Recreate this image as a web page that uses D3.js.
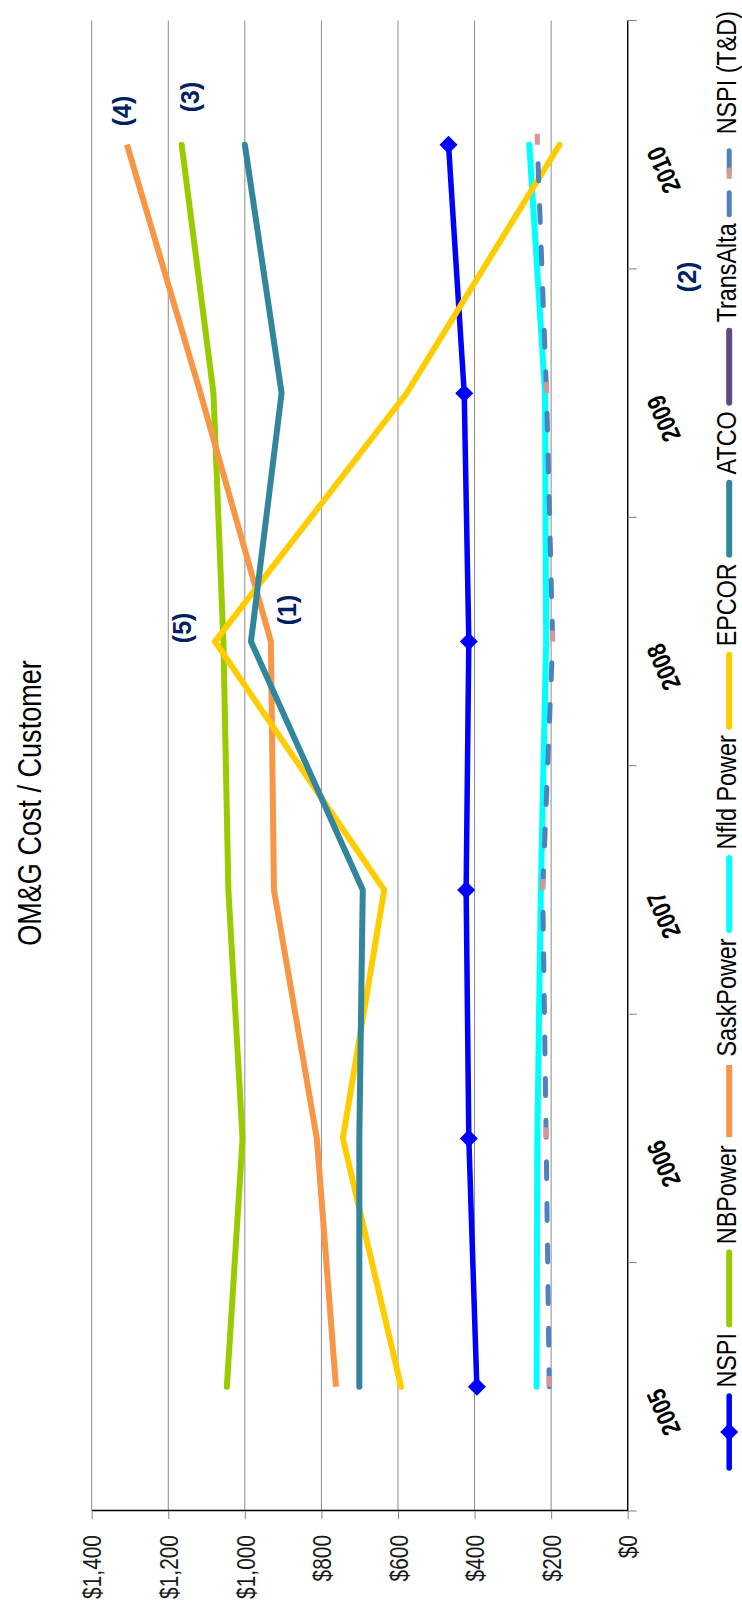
<!DOCTYPE html>
<html>
<head>
<meta charset="utf-8">
<script src="https://cdn.jsdelivr.net/npm/d3@7"></script>
<style>
  html, body { margin: 0; padding: 0; background: #ffffff; }
  svg { display: block; }
</style>
</head>
<body>
<svg id="chart" width="742" height="1610"></svg>
<script>
// ---- data ----
const years = ["2005", "2006", "2007", "2008", "2009", "2010"];
const valueTicks = [0, 200, 400, 600, 800, 1000, 1200, 1400];
const nspi      = [394, 415, 422, 415, 427, 468];
const nbPower   = [1047, 1006, 1043, 1056, 1082, 1165];
const saskPower = [762, 812, 924, 932, 1116, 1308];
const nfldPower = [238, 236, 227, 213, 216, 257];
const epcor     = [592, 744, 636, 1078, 577, 178];
const atco      = [701, 701, 692, 984, 904, 1000];
const transAlta = [null, null, null, null, null, null];
const nspiTD    = [205, 213, 222, 196, 212, 236];
const seriesNames = ["NSPI", "NBPower", "SaskPower", "Nfld Power", "EPCOR", "ATCO", "TransAlta", "NSPI (T&D)"];
const chartTitle = "OM&G Cost / Customer";

// footnote markers, anchored in data space (year band, value) with a shift along the band
const notes = [
  { text: "(1)", year: "2008", value: 890,  shift: 0.127 },
  { text: "(2)", year: "2009", value: -155, shift: 0.468 },
  { text: "(3)", year: "2010", value: 1143, shift: 0.192 },
  { text: "(4)", year: "2010", value: 1321, shift: 0.136 },
  { text: "(5)", year: "2008", value: 1164, shift: 0.055 }
];

// ---- styles ----
const SANS = "'Liberation Sans', Arial, sans-serif";
const NARROW = 0.82;   // condensed look: the regular face scaled along the text direction
const styles = {
  "NSPI":       { color: "#0000ff", width: 5.5, cap: "round", diamond: true },
  "NBPower":    { color: "#99cc00", width: 6,   cap: "round" },
  "SaskPower":  { color: "#f79646", width: 6,   cap: "butt" },
  "Nfld Power": { color: "#00ffff", width: 6,   cap: "round" },
  "EPCOR":      { color: "#ffcc00", width: 6,   cap: "round" },
  "ATCO":       { color: "#31859c", width: 6,   cap: "round" },
  "TransAlta":  { color: "#604a7b", width: 6,   cap: "round" },
  "NSPI (T&D)": { color: "#4f81bd", width: 5,   cap: "round", dash: "17,24.6", marker: "#d99694" }
};
const seriesValues = [nspi, nbPower, saskPower, nfldPower, epcor, atco, transAlta, nspiTD];

// move a text's x/y into a transform and squeeze it horizontally
function condense(sel, f) {
  sel.each(function () {
    const t = d3.select(this);
    const tx = +t.attr("x") || 0, ty = +t.attr("y") || 0;
    const prev = t.attr("transform") || "";
    t.attr("x", 0).attr("y", 0)
     .attr("transform", `${prev} translate(${tx},${ty}) scale(${f},1)`);
  });
}

// ---- layout: drawn as an ordinary line chart, then turned a quarter turn ----
const W = 1490.5;   // length of the category axis
const H = 536;      // length of the value axis
const OX = 91.7, OY = 1511;
const svg = d3.select("#chart");
const g = svg.append("g").attr("transform", `translate(${OX},${OY}) rotate(-90)`);

const x = d3.scaleBand().domain(years).range([0, W]).padding(0);
const y = d3.scaleLinear().domain([0, 1400]).range([H, 0]);
const cx = yr => x(yr) + x.bandwidth() / 2;

// gridlines
g.append("g")
  .selectAll("line")
  .data(valueTicks.filter(t => t > 0))
  .join("line")
  .attr("x1", 0).attr("x2", W)
  .attr("y1", d => y(d)).attr("y2", d => y(d))
  .attr("stroke", "#8c8c8c").attr("stroke-width", 1);

// value axis
const yAxis = g.append("g")
  .call(d3.axisLeft(y).tickValues(valueTicks).tickSize(8).tickSizeOuter(0).tickPadding(16)
    .tickFormat(d => "$" + d3.format(",")(d)));
yAxis.select(".domain").attr("stroke", "#000").attr("stroke-width", 1.4);
yAxis.selectAll(".tick line").attr("stroke", "#808080");
yAxis.selectAll(".tick text")
  .attr("font-family", SANS).attr("font-size", 25.5).attr("fill", "#1a1a1a")
  .attr("dy", "0.36em")
  .call(condense, NARROW);

// category axis line and boundary ticks
g.append("line")
  .attr("x1", 0).attr("x2", W).attr("y1", H).attr("y2", H)
  .attr("stroke", "#000").attr("stroke-width", 1.4);
g.append("g")
  .selectAll("line")
  .data(d3.range(years.length + 1))
  .join("line")
  .attr("x1", i => i * x.bandwidth()).attr("x2", i => i * x.bandwidth())
  .attr("y1", H).attr("y2", H + 9)
  .attr("stroke", "#808080").attr("stroke-width", 1);

// category labels (slanted), placed in page space from the band scale
svg.append("g")
  .selectAll("text")
  .data(years)
  .join("text")
  .attr("transform", d => `translate(${OX + H + 35},${OY - cx(d)}) rotate(-113) scale(${NARROW},1)`)
  .attr("text-anchor", "end")
  .attr("font-family", SANS).attr("font-weight", "bold").attr("font-size", 26)
  .attr("fill", "#000")
  .text(d => d);

// series lines
const line = d3.line()
  .defined(d => d != null)
  .x((d, i) => cx(years[i]))
  .y(d => y(d));

const diamond = s => `M0,${-s}L${s},0L0,${s}L${-s},0Z`;

seriesNames.forEach((name, k) => {
  const st = styles[name];
  const vals = seriesValues[k];
  const sg = g.append("g");
  sg.append("path")
    .attr("d", line(vals))
    .attr("fill", "none")
    .attr("stroke", st.color)
    .attr("stroke-width", st.width)
    .attr("stroke-linecap", st.cap)
    .attr("stroke-linejoin", "miter")
    .attr("stroke-dasharray", st.dash || null);
  const pts = vals.map((v, i) => ({ v, yr: years[i] })).filter(p => p.v != null);
  if (st.diamond) {
    sg.selectAll("path.mk").data(pts).join("path").attr("class", "mk")
      .attr("d", diamond(9))
      .attr("transform", p => `translate(${cx(p.yr)},${y(p.v)})`)
      .attr("fill", st.color);
  }
  if (st.marker) {
    sg.selectAll("rect.mk").data(pts).join("rect").attr("class", "mk")
      .attr("x", p => cx(p.yr)).attr("y", p => y(p.v) - 2.5)
      .attr("width", 11).attr("height", 5)
      .attr("fill", st.marker);
  }
});

// footnote markers
g.append("g")
  .selectAll("text")
  .data(notes)
  .join("text")
  .attr("x", d => cx(d.year) + d.shift * x.bandwidth())
  .attr("y", d => y(d.value))
  .attr("text-anchor", "middle")
  .attr("dominant-baseline", "central")
  .attr("font-family", SANS).attr("font-weight", "bold").attr("font-size", 25)
  .attr("fill", "#002060")
  .text(d => d.text);

// title
g.append("text")
  .attr("x", 708).attr("y", -50.7)
  .attr("text-anchor", "middle")
  .attr("font-family", SANS).attr("font-size", 33).attr("fill", "#000")
  .text(chartTitle)
  .call(condense, NARROW);

// legend
const legend = g.append("g").attr("transform", "translate(0,637.5)");
const symLen = 72, legStart = 43, legEnd = 1500;
const LEG_FONT = 27.5, LEG_STRETCH = NARROW * 28.5 / 27.5;
const items = seriesNames.map(name => {
  const it = legend.append("g");
  const t = it.append("text")
    .attr("font-family", SANS).attr("font-size", LEG_FONT).attr("fill", "#000")
    .text(name);
  const w = t.node().getComputedTextLength() * LEG_STRETCH;
  return { name, g: it, t, w };
});
const used = d3.sum(items, d => d.w) + items.length * symLen;
const gap = (legEnd - legStart - used) / (items.length * 2 - 1);
let u = legStart;
items.forEach(it => {
  const st = styles[it.name];
  it.g.append("line")
    .attr("x1", u).attr("x2", u + symLen).attr("y1", 0).attr("y2", 0)
    .attr("stroke", st.color).attr("stroke-width", st.width)
    .attr("stroke-linecap", st.cap)
    .attr("stroke-dasharray", st.dash ? "22,20" : null);
  if (st.diamond) {
    it.g.append("path").attr("d", diamond(9))
      .attr("transform", `translate(${u + symLen / 2},0)`).attr("fill", st.color);
  }
  if (st.marker) {
    it.g.append("rect").attr("x", u + symLen / 2).attr("y", -2.5)
      .attr("width", 11).attr("height", 5).attr("fill", st.marker);
  }
  it.t.attr("transform", `translate(${u + symLen + gap},6.3) scale(${LEG_STRETCH},1)`);
  u += symLen + gap + it.w + gap;
});
</script>
</body>
</html>
